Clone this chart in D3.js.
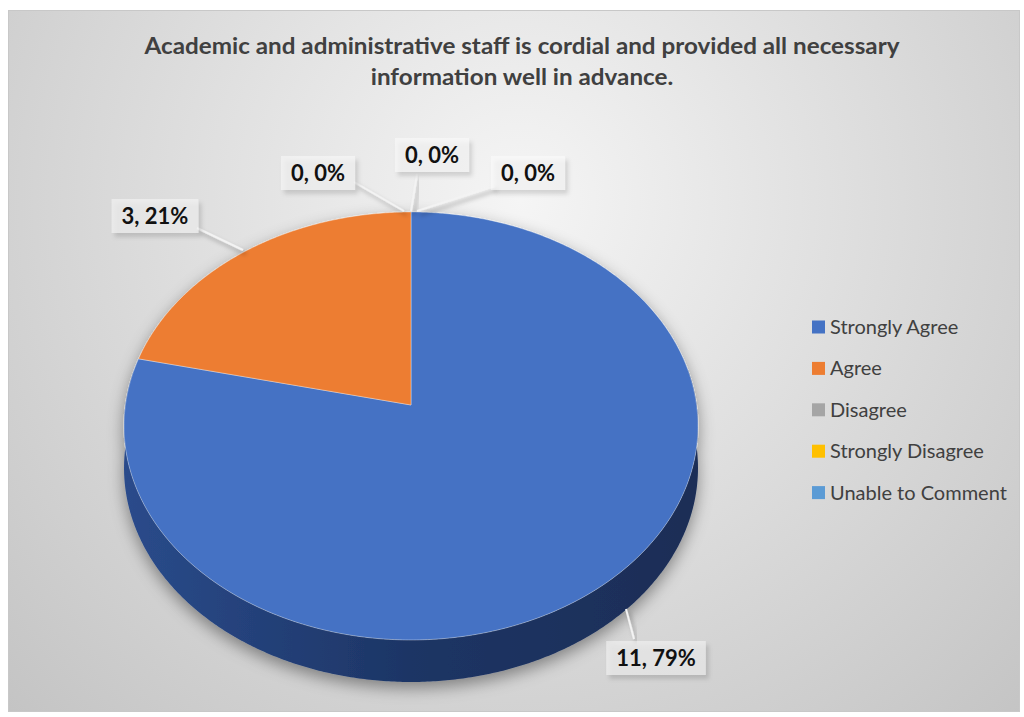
<!DOCTYPE html>
<html>
<head>
<meta charset="utf-8">
<script src="https://cdn.jsdelivr.net/npm/d3@7"></script>
<style>
  body{margin:0;background:#fff;}
  svg{display:block;}
  text{font-family:Lato,"Open Sans",sans-serif;}
</style>
</head>
<body>
<svg width="1024" height="717"></svg>
<script>
// data
var categories=["Strongly Agree","Agree","Disagree","Strongly Disagree","Unable to Comment"];
var values=[11,3,0,0,0];
var colors=["#4472c4","#ed7d31","#a5a5a5","#ffc000","#5b9bd5"];
var titleLines=["Academic and administrative staff is cordial and provided all necessary","information well in advance."];

var svg=d3.select("svg");
var defs=svg.append("defs");

var bg=defs.append("radialGradient").attr("id","bg")
  .attr("gradientUnits","userSpaceOnUse")
  .attr("cx",520).attr("cy",200).attr("r",750);
bg.append("stop").attr("offset","0").attr("stop-color","#f5f5f5");
bg.append("stop").attr("offset","1").attr("stop-color","#c2c2c2");

var sideGrad=defs.append("linearGradient").attr("id","side")
  .attr("x1","0").attr("x2","1").attr("y1","0").attr("y2","0");
sideGrad.append("stop").attr("offset","0").attr("stop-color","#2a4b8b");
sideGrad.append("stop").attr("offset","0.5").attr("stop-color","#1d3565");
sideGrad.append("stop").attr("offset","1").attr("stop-color","#1a2d56");

var pieShadow=defs.append("filter").attr("id","pieShadow")
  .attr("x","-20%").attr("y","-20%").attr("width","140%").attr("height","140%");
pieShadow.append("feDropShadow").attr("dx",0).attr("dy",6).attr("stdDeviation",8)
  .attr("flood-color","#000").attr("flood-opacity",0.4);

var boxShadow=defs.append("filter").attr("id","boxShadow")
  .attr("x","-20%").attr("y","-30%").attr("width","150%").attr("height","180%");
boxShadow.append("feDropShadow").attr("dx",3).attr("dy",4).attr("stdDeviation",2.2)
  .attr("flood-color","#000").attr("flood-opacity",0.3);

// chart frame
svg.append("rect").attr("x",8.5).attr("y",10.5).attr("width",1011).attr("height",701)
  .attr("fill","url(#bg)").attr("stroke","#c8c8c8");

// title, squeezed to the width of the original
var tl=svg.append("g").selectAll("text").data(titleLines).enter().append("text")
  .attr("x",522).attr("y",function(d,i){return 54+i*31;})
  .attr("text-anchor","middle")
  .attr("font-size",22).attr("font-weight","bold")
  .attr("fill","#404040")
  .text(function(d){return d;});
var tw=tl.nodes().map(function(n){return n.getComputedTextLength();});
var fit=755/tw[0];
tl.attr("textLength",function(d,i){return tw[i]*fit;}).attr("lengthAdjust","spacingAndGlyphs");

// pie geometry (tilted disc seen in perspective)
var cx=411,cy=405,W=285.6,tilt=0.742,persp=0.0981,depth=42;
function proj(a,dz){
  var u=Math.sin(a),v=Math.cos(a),den=1+persp*v;
  return [cx+W*u/den, cy-W*tilt*v/den+(dz||0)];
}
var step=Math.PI/360;

var pie=d3.pie().sort(null).value(function(d){return d;});
var arcs=pie(values);
var total=d3.sum(values);

var pg=svg.append("g").attr("filter","url(#pieShadow)");

// front side wall (all of it belongs to the first slice)
var sp=d3.path();
var a0=80*Math.PI/180,a1=280*Math.PI/180,a,p;
p=proj(a0);sp.moveTo(p[0],p[1]);
for(a=a0;a<=a1;a+=step){p=proj(a);sp.lineTo(p[0],p[1]);}
for(a=a1;a>=a0;a-=step){p=proj(a,depth);sp.lineTo(p[0],p[1]);}
sp.closePath();
pg.append("path").attr("d",sp.toString()).attr("fill","url(#side)");

// top faces
pg.selectAll("path.slice").data(arcs.filter(function(d){return d.value>0;}))
  .enter().append("path").attr("class","slice")
  .attr("d",function(d){
    var path=d3.path();
    path.moveTo(cx,cy);
    for(var t=d.startAngle;t<d.endAngle;t+=step){var q=proj(t);path.lineTo(q[0],q[1]);}
    var e=proj(d.endAngle);path.lineTo(e[0],e[1]);
    path.closePath();
    return path.toString();
  })
  .attr("fill",function(d){return colors[d.index];})
  .attr("stroke","rgba(255,255,255,0.35)").attr("stroke-width",1);

// data labels: box centre and leader end (layout only)
var labelLayout=[
  {x:656,y:658,ax:626,ay:609,lx:634,ly:639},
  {x:155,y:216,ax:243,ay:250,lx:197,ly:228},
  {x:318,y:173,ax:404,ay:211,lx:354,ly:182},
  {x:432,y:155,ax:411,ay:211,lx:417,ly:174},
  {x:528,y:173,ax:417,ay:211,lx:494,ly:186}
];
var lg=svg.append("g");
arcs.forEach(function(d,i){
  var L=labelLayout[i];
  var txt=d.value+", "+Math.round(d.value/total*100)+"%";
  lg.append("line").attr("x1",L.lx).attr("y1",L.ly).attr("x2",L.ax).attr("y2",L.ay)
    .attr("stroke","#f3f3f3").attr("stroke-width",2).attr("filter","url(#boxShadow)");
  var g=lg.append("g").attr("transform","translate("+L.x+","+L.y+")");
  var r=g.append("rect").attr("fill","#ffffff").attr("fill-opacity",0.45).attr("filter","url(#boxShadow)");
  var t=g.append("text").attr("text-anchor","middle").attr("dy","0.36em")
    .attr("font-size",22).attr("font-weight","bold").attr("fill","#111")
    .text(txt);
  var w=t.node().getComputedTextLength()+20;
  r.attr("x",-w/2).attr("y",-17).attr("width",w).attr("height",34);
});

// legend
var leg=svg.append("g").attr("transform","translate(812,327)");
var items=leg.selectAll("g").data(categories).enter().append("g")
  .attr("transform",function(d,i){return "translate(0,"+(i*41.4)+")";});
items.append("rect").attr("x",0).attr("y",-6.5).attr("width",13).attr("height",13)
  .attr("fill",function(d,i){return colors[i];});
items.append("text").attr("x",18).attr("dy","0.35em")
  .attr("font-size",20).attr("fill","#404040")
  .text(function(d){return d;});
</script>
</body>
</html>
